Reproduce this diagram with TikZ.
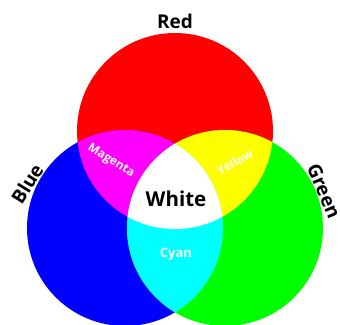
\documentclass[tikz,border=0pt]{standalone}
\usepackage{fontspec}
\setmainfont{Open Sans}
\usetikzlibrary{positioning}
\definecolor{cred}{HTML}{FF0000}
\definecolor{cgreen}{HTML}{00FF00}
\definecolor{cblue}{HTML}{0000FF}
\definecolor{cmagenta}{HTML}{FF00FF}
\definecolor{cyellow}{HTML}{FFFF00}
\definecolor{ccyan}{HTML}{00FFFF}
\tikzset{
  every picture/.style={x=1pt, y=-1pt},
  lightlabel/.style={font=\bfseries\fontsize{19}{19}\selectfont, text=black, inner sep=0pt},
  mixlabel/.style={font=\bfseries\fontsize{12}{12}\selectfont, text=white, inner sep=0pt},
}

\begin{document}
\begin{tikzpicture}
  \clip (0, 0) rectangle (340, 324);
  \fill[white] (0, 0) rectangle (340, 324);
  % centres of the three lights
  \coordinate (R) at (175, 131);
  \coordinate (B) at (125, 228);
  \coordinate (G) at (225, 228);
  \def\rad{98pt}
  \fill[cred] (R) circle (\rad);
  \fill[cblue] (B) circle (\rad);
  \fill[cgreen] (G) circle (\rad);
  % overlaps
  \begin{scope}
    \clip (R) circle (\rad);
    \fill[cmagenta] (B) circle (\rad);
    \fill[cyellow] (G) circle (\rad);
  \end{scope}
  \begin{scope}
    \clip (B) circle (\rad);
    \fill[ccyan] (G) circle (\rad);
  \end{scope}
  \begin{scope}
    \clip (R) circle (\rad);
    \clip (B) circle (\rad);
    \fill[white] (G) circle (\rad);
  \end{scope}
  % labels
  \node[lightlabel] (red) at (175, 21) {Red};
  \node[lightlabel, rotate=58] (blue) at (27, 184) {Blue};
  \node[lightlabel, rotate=-67] (green) at (324, 191) {Green};
  \node[lightlabel, font=\bfseries\fontsize{20.5}{20.5}\selectfont] (white) at (176, 199) {White};
  \node[mixlabel, rotate=-32] (magenta) at (111, 161) {Magenta};
  \node[mixlabel, rotate=29] (yellow) at (235, 162) {Yellow};
  \node[mixlabel, font=\bfseries\fontsize{13}{13}\selectfont] (cyan) at (176, 254) {Cyan};
\end{tikzpicture}
\end{document}
